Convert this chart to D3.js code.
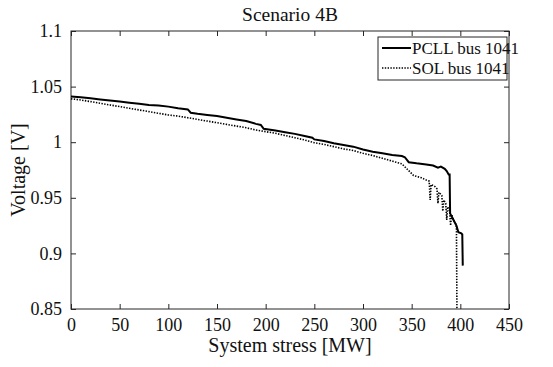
<!DOCTYPE html>
<html><head><meta charset="utf-8">
<script src="https://cdn.jsdelivr.net/npm/d3@7"></script>
<style>body{margin:0;background:#fff}svg{display:block}text{font-family:"Liberation Serif","DejaVu Serif",serif;fill:#111}</style>
</head><body>
<svg id="c" width="553" height="367"></svg>
<script>
const title = "Scenario 4B";
const xLabel = "System stress [MW]";
const yLabel = "Voltage [V]";
const seriesNames = ["PCLL bus 1041", "SOL bus 1041"];
const xTicks = [0,50,100,150,200,250,300,350,400,450];
const yTicks = [0.85,0.9,0.95,1,1.05,1.1];
const yTickLabels = ["0.85","0.9","0.95","1","1.05","1.1"];

const pcllX = [0,10,20,30,40,50,60,70,80,90,100,110,120,123,130,140,150,160,170,180,190,195,198,210,220,230,240,248,250,260,270,280,290,300,310,320,330,340,343,347,355,365,372,377,380,384,386,388,389,389.5,393,396,398,401,402,402.5];
const pcllV = [1.041,1.0405,1.0395,1.0385,1.0375,1.0365,1.0355,1.0345,1.0335,1.033,1.032,1.0305,1.0295,1.0265,1.0255,1.0245,1.0235,1.022,1.0205,1.019,1.0165,1.0155,1.012,1.0105,1.009,1.0075,1.0055,1.004,1.0025,1.001,0.999,0.9975,0.996,0.9935,0.9915,0.990,0.9885,0.9875,0.9865,0.982,0.981,0.980,0.979,0.977,0.978,0.976,0.974,0.971,0.971,0.936,0.930,0.925,0.919,0.918,0.917,0.889];

const solX = [0,10,20,30,40,50,60,70,80,90,100,110,120,130,140,150,160,170,180,190,200,210,220,230,240,250,260,270,280,290,300,310,320,330,340,348,352,360,365,368,369,370,374,376,377,378,381,382,383,385,386,387,389,390,391,393,395,396,396.5];
const solV = [1.039,1.038,1.0365,1.035,1.0335,1.032,1.0305,1.029,1.0275,1.026,1.0245,1.0235,1.022,1.0205,1.019,1.0175,1.016,1.0145,1.013,1.011,1.0095,1.008,1.006,1.004,1.002,0.9995,0.998,0.996,0.994,0.9925,0.990,0.988,0.9855,0.983,0.9805,0.9735,0.970,0.968,0.966,0.965,0.948,0.962,0.960,0.958,0.945,0.955,0.952,0.938,0.948,0.945,0.930,0.942,0.938,0.925,0.935,0.930,0.927,0.924,0.850];

const m = {l:71, r:509, t:31, b:309};
const svg = d3.select("#c");
const x = d3.scaleLinear().domain([0,450]).range([m.l,m.r]);
const y = d3.scaleLinear().domain([0.85,1.1]).range([m.b,m.t]);
const axCol = "#262626";

svg.append("rect").attr("x",m.l).attr("y",m.t).attr("width",m.r-m.l).attr("height",m.b-m.t)
  .attr("fill","none").attr("stroke",axCol).attr("stroke-width",1);

const fs = 18;
const gB = svg.append("g").attr("transform",`translate(0,${m.b})`)
  .call(d3.axisBottom(x).tickValues(xTicks).tickSize(-5).tickPadding(9).tickFormat(d3.format("d")));
const gT = svg.append("g").attr("transform",`translate(0,${m.t})`)
  .call(d3.axisTop(x).tickValues(xTicks).tickSize(-5).tickFormat(""));
const gL = svg.append("g").attr("transform",`translate(${m.l},0)`)
  .call(d3.axisLeft(y).tickValues(yTicks).tickSize(-5).tickPadding(9).tickFormat((d,i)=>yTickLabels[i]));
const gR = svg.append("g").attr("transform",`translate(${m.r},0)`)
  .call(d3.axisRight(y).tickValues(yTicks).tickSize(-5).tickFormat(""));
[gB,gT,gL,gR].forEach(g=>{
  g.select(".domain").remove();
  g.selectAll("line").attr("stroke",axCol);
  g.selectAll("text").attr("font-size",fs).attr("font-family",'"Liberation Serif",serif').attr("fill","#111");
});

const line = d3.line().x(d=>x(d[0])).y(d=>y(d[1]));
const pcll = pcllX.map((v,i)=>[v,pcllV[i]]);
const sol = solX.map((v,i)=>[v,solV[i]]);
svg.append("path").datum(sol).attr("d",line).attr("fill","none").attr("stroke","#000")
  .attr("stroke-width",1.6).attr("stroke-dasharray","1.4,1.4");
svg.append("path").datum(pcll).attr("d",line).attr("fill","none").attr("stroke","#000")
  .attr("stroke-width",2);

svg.append("text").attr("x",(m.l+m.r)/2).attr("y",21).attr("text-anchor","middle").attr("font-size",19.5).text(title);
svg.append("text").attr("x",(m.l+m.r)/2).attr("y",352).attr("text-anchor","middle").attr("font-size",20).text(xLabel);
svg.append("text").attr("transform",`translate(25,${(m.t+m.b)/2}) rotate(-90)`).attr("text-anchor","middle").attr("font-size",20).text(yLabel);

const lg = svg.append("g");
lg.append("rect").attr("x",378).attr("y",37).attr("width",129).attr("height",43)
  .attr("fill","#fff").attr("stroke",axCol).attr("stroke-width",1);
const rows = [{y:48, dash:null, w:2},{y:68, dash:"1.4,1.4", w:1.6}];
rows.forEach((r,i)=>{
  const ln = lg.append("line").attr("x1",382).attr("x2",411).attr("y1",r.y).attr("y2",r.y)
    .attr("stroke","#000").attr("stroke-width",r.w);
  if(r.dash) ln.attr("stroke-dasharray",r.dash);
  lg.append("text").attr("x",412).attr("y",r.y+5.5).attr("font-size",17).text(seriesNames[i]);
});
</script>
</body></html>
